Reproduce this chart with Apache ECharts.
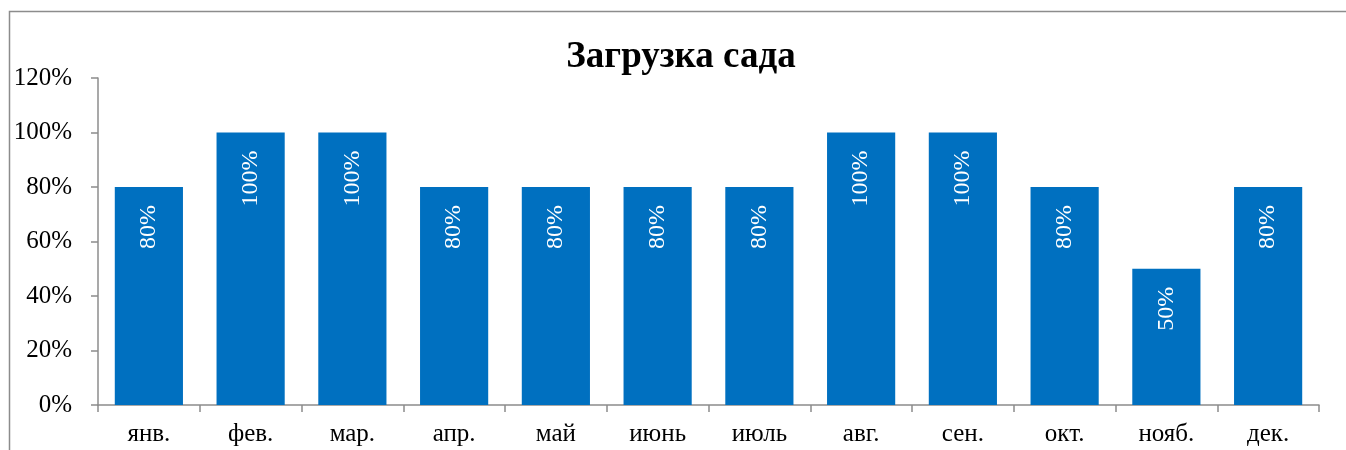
<!DOCTYPE html>
<html>
<head>
<meta charset="utf-8">
<script src="https://cdn.jsdelivr.net/npm/echarts@6/dist/echarts.min.js"></script>
<style>
  html, body { margin: 0; padding: 0; background: #fff; }
  #chart { width: 1346px; height: 450px; }
</style>
</head>
<body>
<div id="chart"></div>
<script>
// данные графика
var months = ['янв.', 'фев.', 'мар.', 'апр.', 'май', 'июнь', 'июль', 'авг.', 'сен.', 'окт.', 'нояб.', 'дек.'];
var loadPct = [80, 100, 100, 80, 80, 80, 80, 100, 100, 80, 50, 80];
var titleText = 'Загрузка сада';

var serif = '"Liberation Serif", "DejaVu Serif", serif';
var chart = echarts.init(document.getElementById('chart'));
var option = {
  animation: false,
  title: {
    text: titleText,
    left: 676,
    textAlign: 'center',
    top: 34,
    textStyle: { fontFamily: serif, fontSize: 37, fontWeight: 'bold', color: '#000' }
  },
  // рамка диаграммы
  graphic: [{
    type: 'rect',
    shape: { x: 9.5, y: 11.5, width: 1400, height: 500 },
    style: { fill: 'none', stroke: '#8c8c8c', lineWidth: 1.5 },
    silent: true
  }],
  grid: { left: 98, right: 27, top: 78, bottom: 45 },
  xAxis: {
    type: 'category',
    data: months,
    axisLine: { lineStyle: { color: '#8c8c8c', width: 1.5 } },
    axisTick: { show: true, length: 7, lineStyle: { color: '#8c8c8c', width: 1.5 } },
    axisLabel: { fontFamily: serif, fontSize: 25, color: '#000', margin: 17 }
  },
  yAxis: {
    type: 'value',
    min: 0,
    max: 120,
    interval: 20,
    axisLine: { show: true, lineStyle: { color: '#8c8c8c', width: 1.5 } },
    axisTick: { show: true, length: 7, lineStyle: { color: '#8c8c8c', width: 1.5 } },
    splitLine: { show: false },
    axisLabel: { fontFamily: serif, fontSize: 25, color: '#000', margin: 26, formatter: '{value}%' }
  },
  series: [{
    type: 'bar',
    data: loadPct,
    barWidth: '67%',
    itemStyle: { color: '#0070c0' },
    label: {
      show: true,
      position: 'insideTop',
      rotate: 90,
      align: 'right',
      verticalAlign: 'middle',
      distance: 18,
      formatter: '{c}%',
      fontFamily: serif,
      fontSize: 24,
      color: '#fff'
    }
  }]
};
chart.setOption(option);
</script>
</body>
</html>
